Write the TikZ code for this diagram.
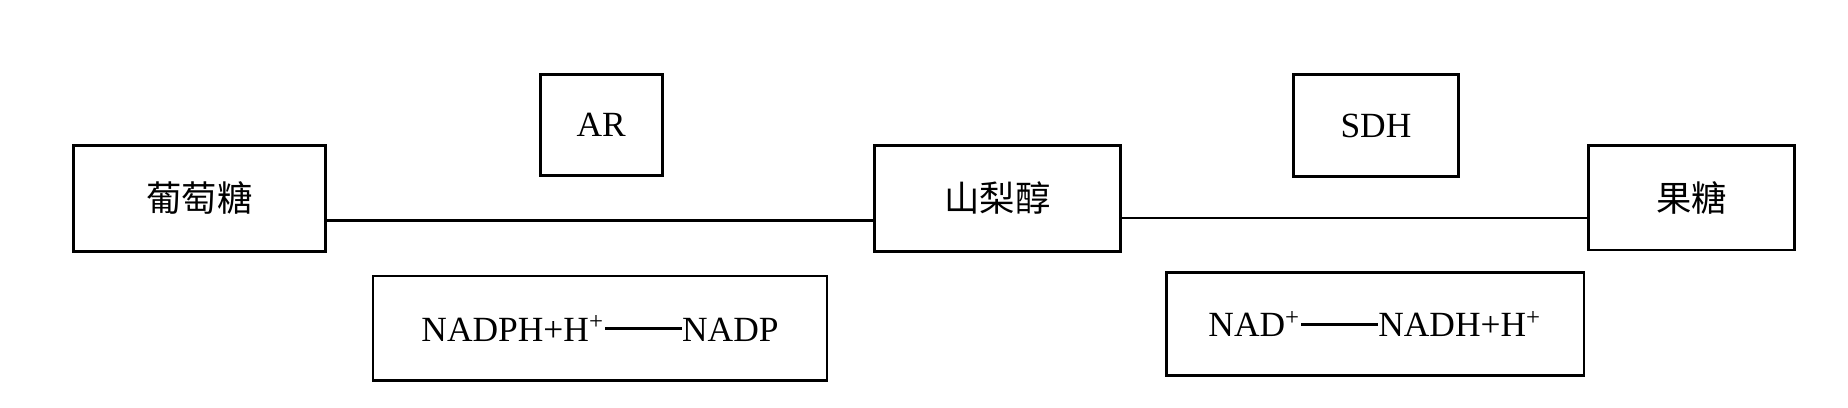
\documentclass[tikz,border=0pt]{standalone}
\usepackage{fontspec}
\setmainfont{Liberation Serif}
\newfontfamily\cjk{Noto Sans CJK SC}
\newcommand\dashbar[1]{\rule[0.3em]{#1}{0.8pt}}
\begin{document}
\begin{tikzpicture}[x=0.01cm,y=-0.01cm,
  bx/.style={draw,line width=0.7pt,inner sep=0pt,font=\fontsize{8.5}{10}\selectfont},
  ln/.style={line width=0.7pt}]
\useasboundingbox (0,0) rectangle (1560,344);
\node[bx,minimum width=2.13cm,minimum height=0.89cm] (glu) at (168.5,167.5) {\cjk 葡萄糖};
\node[bx,minimum width=1.03cm,minimum height=0.85cm] (ar) at (507.5,105.5) {AR};
\node[bx,minimum width=2.08cm,minimum height=0.89cm] (sor) at (842,167.5) {\cjk 山梨醇};
\node[bx,minimum width=1.39cm,minimum height=0.86cm] (sdh) at (1161.5,106) {SDH};
\node[bx,minimum width=1.74cm,minimum height=0.88cm] (fru) at (1428,167) {\cjk 果糖};
\node[bx,minimum width=3.83cm,minimum height=0.88cm] (nadph) at (506.5,277) {NADPH+H\textsuperscript{+}\dashbar{0.65cm}NADP};
\node[bx,minimum width=3.52cm,minimum height=0.87cm] (nad) at (1161,273.5) {NAD\textsuperscript{+}\dashbar{0.65cm}NADH+H\textsuperscript{+}};
\draw[ln] (glu.east |- 0,186) -- (sor.west |- 0,186);
\draw[ln] (sor.east |- 0,184) -- (fru.west |- 0,184);
\end{tikzpicture}
\end{document}
